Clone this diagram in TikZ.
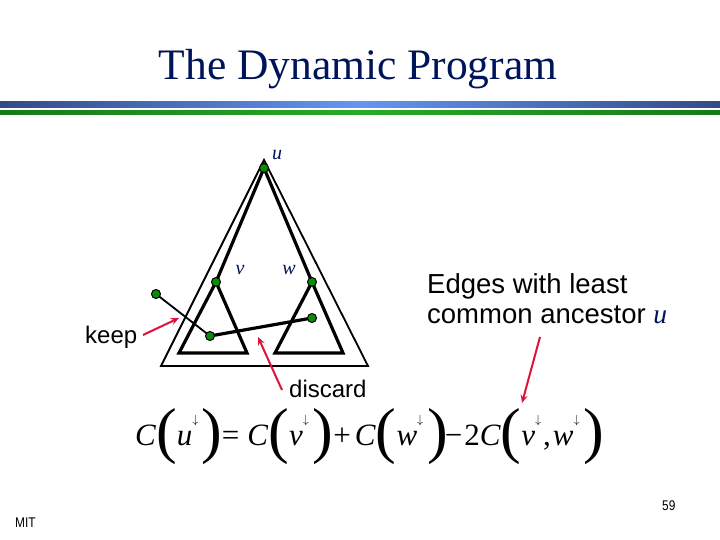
\documentclass[tikz,border=0pt]{standalone}
\usepackage{fontspec}
\setmainfont{Liberation Serif}
\setsansfont{Liberation Sans}
\usetikzlibrary{arrows.meta}
\definecolor{navy}{RGB}{0,20,90}
\definecolor{bardark}{RGB}{50,75,135}
\definecolor{barlight}{RGB}{100,150,240}
\definecolor{gdark}{RGB}{25,120,25}
\definecolor{glight}{RGB}{40,170,40}
\definecolor{dotgreen}{RGB}{10,140,10}
\definecolor{arrowred}{RGB}{220,20,60}
\newcommand{\bigL}{\raisebox{-6.5pt}{\fontsize{62}{62}\selectfont(}}
\newcommand{\bigR}{\raisebox{-6.5pt}{\fontsize{62}{62}\selectfont)}}
\newcommand{\darr}{\raisebox{22pt}{\fontsize{13}{13}\selectfont$\downarrow$}}
\tikzset{
  dot/.style={circle,draw=black,line width=1pt,fill=dotgreen,minimum size=9pt,inner sep=0pt},
  thickline/.style={line width=3.2pt,black},
  thinline/.style={line width=1.8pt,black},
  redarrow/.style={line width=2pt,arrowred,-{Stealth[length=8pt,width=7pt]}},
  lbl/.style={text=navy,font=\fontsize{20}{20}\selectfont\itshape,inner sep=0pt},
  sanslbl/.style={font=\sffamily\fontsize{24}{24}\selectfont,inner sep=0pt},
  biglbl/.style={font=\sffamily\fontsize{27.5}{27.5}\selectfont,inner sep=0pt},
  footer/.style={font=\sffamily\fontsize{14}{14}\selectfont,anchor=base west,inner sep=0pt,xscale=0.85}
}
\begin{document}
\begin{tikzpicture}[x=1pt,y=-1pt]
\useasboundingbox (0,0) rectangle (720,540);
\fill[white] (0,0) rectangle (720,540);
% title
\node[text=navy,font=\fontsize{43.5}{43.5}\selectfont,anchor=base] (title) at (358,80) {The Dynamic Program};
% bars
\shade[left color=bardark,right color=bardark,middle color=barlight] (0,102) rectangle (720,107.5);
\shade[left color=gdark,right color=gdark,middle color=glight] (0,110.5) rectangle (720,115);
% outer triangle
\draw[thinline,line join=miter] (264,160) -- (161,366) -- (368,366) -- cycle;
% dots positions
\coordinate (pu) at (264,168);
\coordinate (pv) at (216,282);
\coordinate (pw) at (312,282);
\coordinate (pa) at (156,294);
\coordinate (pb) at (210,336);
\coordinate (pc) at (312,318);
% inner tree lines
\draw[thickline] (pv) -- (pu) -- (pw);
\draw[thickline,line join=miter] (pv) -- (179,353) -- (247,353) -- cycle;
\draw[thickline,line join=miter] (pw) -- (275,353) -- (343,353) -- cycle;
% edges
\draw[thinline] (pa) -- (pb);
\draw[thickline] (pb) -- (pc);
% dots
\node[dot] (u) at (pu) {};
\node[dot] (v) at (pv) {};
\node[dot] (w) at (pw) {};
\node[dot] (a) at (pa) {};
\node[dot] (b) at (pb) {};
\node[dot] (c) at (pc) {};
% labels
\node[lbl] (ul) at (277,155) {u};
\node[lbl] (vl) at (240,270) {v};
\node[lbl] (wl) at (289,270) {w};
% texts
\node[biglbl,anchor=base west] (edges1) at (427,293) {Edges with least};
\node[biglbl,anchor=base west] (edges2) at (427,323) {common ancestor {\rmfamily\itshape\color{navy}u}};
\node[sanslbl,anchor=base west] (keep) at (85,343) {keep};
\node[sanslbl,anchor=base west] (discard) at (289,397) {discard};
% arrows
\coordinate (k1) at (143,335);
\coordinate (k2) at (179,318);
\draw[redarrow] (k1) -- (k2);
\coordinate (d1) at (282,390);
\coordinate (d2) at (258,337);
\draw[redarrow] (d1) -- (d2);
\coordinate (e1) at (540,337);
\coordinate (e2) at (522,403);
\draw[redarrow] (e1) -- (e2);
% equation
\node[anchor=base west,inner sep=0pt] (eq) at (135,445) {\fontsize{31}{31}\selectfont
\textit{C}\bigL\textit{u}\darr\hspace{3pt}\bigR=\hspace{8pt}\textit{C}\bigL\textit{v}\darr\hspace{4pt}\bigR+\hspace{4pt}\textit{C}\bigL\textit{w}\darr\hspace{4pt}\bigR\kern-3pt−\hspace{2pt}2\textit{C}\bigL\textit{v}\darr\hspace{2pt},\hspace{2pt}\textit{w}\darr\hspace{4pt}\bigR};
% footer
\node[footer] (mit) at (15,527) {MIT};
\node[footer] (page) at (662,510) {59};
\end{tikzpicture}
\end{document}
